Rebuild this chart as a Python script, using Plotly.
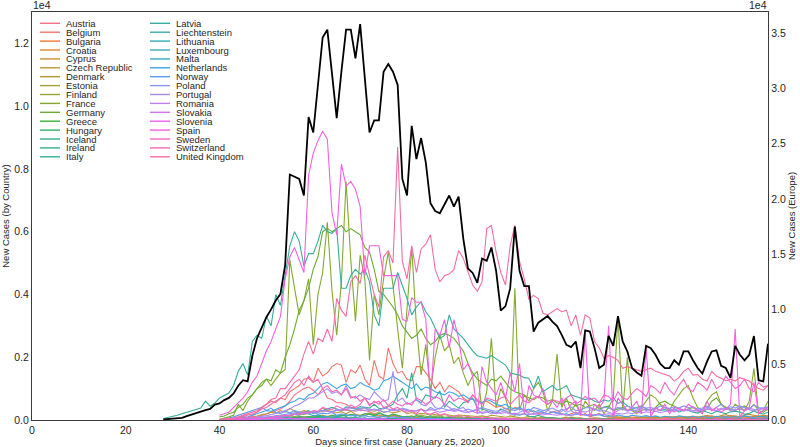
import math
import plotly.graph_objects as go

# ---------------------------------------------------------------- data
countries = [
    "Austria", "Belgium", "Bulgaria", "Croatia", "Cyprus", "Czech Republic",
    "Denmark", "Estonia", "Finland", "France", "Germany", "Greece", "Hungary",
    "Iceland", "Ireland", "Italy", "Latvia", "Liechtenstein", "Lithuania",
    "Luxembourg", "Malta", "Netherlands", "Norway", "Poland", "Portugal",
    "Romania", "Slovakia", "Slovenia", "Spain", "Sweden", "Switzerland",
    "United Kingdom",
]

early_start = 28   # first day of the Europe / Italy lists
late_start = 40    # first day of the other country lists

europe = [
    50, 80,
    120, 150, 200, 350, 500, 650, 800, 900, 1000, 1400,
    1500, 1800, 2000, 2400, 3100, 3600, 3500, 5800, 7400, 8400,
    9300, 10000, 10800, 11400, 14000, 22200, 22000, 21800, 20300, 27400,
    26000, 30500, 34600, 35300, 31000, 27300, 31500, 35300, 35300, 32700,
    35800, 31000, 26000, 27100, 27100, 31500, 32200, 31500, 30300, 21800,
    20300, 26600, 23600, 25500, 23300, 19600, 18900, 18700, 19500, 20300,
    19300, 20200, 16400, 13700, 13300, 12400, 14600, 14400, 15600, 13500,
    9900, 10300, 11900, 17500, 13500, 12100, 12100, 8000, 8800, 9100,
    9400, 8900, 8500, 7700, 6800, 6600, 7100, 4700, 8100, 8000,
    6500, 4700, 5000, 7600, 6700, 9400, 7100, 6200, 4700, 4300,
    4000, 6700, 6500, 5900, 5100, 4700, 4700, 5400, 5000, 6200,
    6200, 5400, 4700, 4200, 5300, 6200, 6300, 4900, 4700, 3800,
    6700, 5900, 5400, 5900, 7600, 3600, 3500, 6900,
]

italy = [
    50, 80,
    130, 150, 200, 250, 280, 330, 380, 600, 440, 540,
    700, 780, 860, 1100, 1550, 1800, 1430, 2500, 2700, 2600,
    3300, 3000, 4000, 3650, 4600, 5550, 6000, 5700, 4900, 5300,
    5300, 5700, 6200, 6000, 5950, 6100, 4200, 4200, 4600, 4800,
    4650, 4800, 4400, 3350, 3000, 4200, 4200, 4200, 4700, 4300,
    3870, 3350, 3600, 3770, 3450, 3250, 2900, 2600, 2700, 3350,
    2900, 2750, 2600, 2400, 2200, 2050, 2000, 1970, 2050, 1950,
    1870, 1750, 1500, 1470, 1430, 1350, 1330, 1000, 1400, 900,
    1000, 1100, 950, 1000, 1100, 800, 750, 700, 650, 700,
    600, 550, 640, 600, 700, 530, 580, 450, 380, 400,
    450, 350, 320, 380, 300, 330, 280, 360, 250, 320,
    300, 250, 220, 300, 240, 200, 280, 230, 200, 260,
    280, 250, 180, 210, 290, 220, 190, 250,
]

austria = [
    5, 10, 15, 20, 30, 40, 60, 100, 110, 140,
    200, 250, 310, 350, 450, 600, 800, 900, 1000, 1050,
    950, 800, 1000, 700, 650, 550, 550, 500, 400, 400,
    300, 310, 250, 200, 150, 100, 120, 130, 100, 80,
    90, 80, 70, 60, 50, 60, 70, 50, 40, 60,
    50, 40, 30, 40, 50, 40, 30, 50, 40, 30,
    30, 40, 30, 20, 30, 40, 20, 30, 40, 20,
    30, 20, 40, 30, 20, 30, 20, 40, 30, 20,
    30, 40, 20, 30, 50, 30, 20, 30, 40, 50,
    30, 40, 50, 30, 40, 60, 50, 40, 30, 40,
    50, 30, 40, 60, 40, 30, 50, 40, 30, 60,
    40, 50, 30, 40, 60, 50, 40, 30,
]

belgium = [
    10, 20, 30, 50, 80, 150, 200, 150, 250, 400,
    500, 600, 550, 700, 650, 900, 1000, 1100, 1300, 1330,
    1200, 1650, 1400, 1500, 1700, 1800, 1750, 1200, 1600, 1500,
    1750, 1300, 1100, 1900, 1400, 1300, 2300, 1800, 1500, 1550,
    1300, 1250, 1700, 1700, 1500, 1300, 1000, 1200, 900, 1100,
    1000, 900, 700, 600, 800, 650, 550, 600, 500, 400,
    450, 350, 300, 400, 350, 300, 250, 300, 200, 250,
    200, 250, 300, 200, 150, 200, 250, 150, 200, 100,
    150, 200, 120, 100, 150, 80, 100, 120, 90, 100,
    80, 100, 60, 90, 70, 80, 100, 60, 80, 90,
    70, 90, 60, 80, 100, 70, 90, 60, 80, 100,
    70, 90, 110, 80, 100, 90, 70, 80,
]

bulgaria = [
    0, 0, 2, 5, 7, 10, 15, 20, 25, 30,
    20, 35, 40, 25, 30, 45, 50, 30, 40, 35,
    50, 40, 30, 60, 45, 40, 55, 35, 50, 60,
    40, 30, 45, 50, 70, 35, 40, 30, 45, 40,
    55, 35, 40, 30, 20, 45, 30, 25, 40, 35,
    30, 20, 35, 40, 25, 30, 45, 35, 40, 20,
    30, 25, 40, 35, 20, 15, 30, 25, 20, 35,
    30, 20, 15, 25, 30, 20, 40, 35, 25, 30,
    50, 40, 60, 45, 30, 55, 40, 70, 50, 60,
    80, 60, 75, 90, 70, 85, 100, 80, 95, 110,
    90, 120, 100, 85, 110, 130, 95, 120, 105, 140,
    110, 100, 125, 90, 115, 135, 100, 120,
]

croatia = [
    0, 1, 2, 5, 10, 15, 20, 30, 40, 50,
    60, 70, 40, 80, 90, 60, 70, 95, 100, 80,
    70, 90, 60, 80, 100, 65, 50, 70, 60, 50,
    40, 55, 30, 45, 35, 50, 25, 40, 30, 20,
    30, 25, 15, 20, 35, 20, 10, 15, 20, 25,
    10, 15, 20, 8, 12, 10, 5, 8, 10, 6,
    5, 8, 4, 6, 3, 5, 2, 4, 6, 3,
    2, 3, 1, 2, 0, 1, 2, 0, 1, 3,
    2, 1, 0, 1, 2, 0, 1, 3, 2, 1,
    0, 2, 3, 5, 4, 8, 10, 6, 12, 15,
    20, 25, 30, 35, 40, 30, 45, 50, 60, 45,
    55, 70, 65, 80, 60, 75, 90, 70,
]

cyprus = [
    0, 0, 2, 4, 3, 6, 10, 8, 12, 15,
    20, 18, 25, 30, 20, 35, 25, 40, 30, 45,
    30, 25, 40, 35, 20, 30, 15, 25, 30, 20,
    15, 20, 10, 25, 12, 18, 8, 15, 10, 12,
    8, 10, 5, 7, 9, 4, 6, 3, 5, 8,
    4, 2, 5, 3, 6, 2, 4, 1, 3, 5,
    2, 3, 1, 4, 2, 0, 3, 1, 2, 0,
    1, 2, 0, 3, 1, 2, 0, 1, 2, 0,
    1, 3, 0, 2, 1, 4, 2, 0, 1, 3,
    2, 1, 0, 3, 2, 1, 4, 2, 0, 1,
    3, 2, 1, 0, 2, 4, 1, 3, 2, 0,
    1, 2, 3, 1, 0, 2, 4, 1,
]

czech_republic = [
    5, 10, 15, 20, 30, 50, 80, 100, 130, 170,
    190, 250, 220, 300, 250, 370, 280, 240, 300, 260,
    250, 270, 380, 300, 240, 230, 260, 200, 280, 180,
    150, 200, 220, 170, 120, 140, 100, 150, 130, 90,
    110, 80, 60, 100, 70, 55, 90, 60, 40, 70,
    50, 80, 35, 40, 60, 30, 50, 45, 30, 40,
    25, 50, 35, 60, 30, 45, 70, 40, 30, 55,
    80, 60, 45, 35, 50, 90, 70, 60, 40, 55,
    70, 50, 40, 60, 80, 100, 75, 90, 60, 70,
    80, 95, 60, 100, 70, 55, 90, 110, 80, 65,
    100, 120, 90, 130, 150, 110, 95, 140, 170, 120,
    130, 100, 160, 180, 140, 120, 150, 130,
]

denmark = [
    10, 25, 40, 60, 90, 120, 70, 50, 40, 60,
    80, 90, 100, 130, 160, 150, 170, 200, 180, 220,
    240, 250, 280, 300, 270, 310, 290, 330, 280, 320,
    350, 390, 300, 280, 320, 250, 270, 230, 260, 300,
    200, 240, 180, 210, 190, 160, 170, 140, 180, 150,
    130, 160, 150, 140, 120, 110, 130, 100, 150, 120,
    110, 90, 130, 100, 70, 80, 120, 90, 60, 100,
    70, 80, 50, 60, 90, 40, 55, 70, 35, 50,
    45, 60, 30, 55, 40, 35, 50, 25, 45, 30,
    40, 25, 35, 45, 30, 20, 40, 35, 25, 30,
    45, 35, 20, 40, 30, 50, 25, 35, 45, 20,
    30, 40, 25, 35, 20, 45, 30, 25,
]

estonia = [
    0, 2, 5, 10, 20, 40, 60, 30, 20, 40,
    80, 50, 40, 30, 60, 40, 50, 90, 35, 30,
    40, 80, 30, 50, 40, 70, 45, 35, 60, 50,
    30, 40, 25, 50, 30, 20, 45, 35, 25, 30,
    20, 15, 25, 10, 20, 15, 8, 12, 18, 10,
    6, 9, 5, 12, 7, 4, 8, 3, 6, 5,
    4, 2, 5, 3, 6, 1, 3, 2, 4, 1,
    2, 0, 3, 1, 2, 0, 1, 3, 0, 2,
    1, 0, 2, 1, 3, 0, 1, 2, 0, 1,
    2, 1, 0, 3, 1, 0, 2, 1, 0, 1,
    3, 0, 1, 2, 0, 1, 3, 0, 1, 2,
    0, 1, 2, 0, 3, 1, 0, 2,
]

finland = [
    2, 5, 10, 20, 30, 40, 50, 60, 40, 70,
    80, 60, 90, 100, 70, 90, 120, 130, 90, 110,
    100, 140, 150, 110, 160, 130, 170, 120, 180, 150,
    130, 140, 200, 170, 260, 150, 120, 180, 140, 110,
    100, 130, 90, 160, 120, 80, 110, 140, 90, 100,
    80, 110, 60, 90, 70, 100, 60, 50, 80, 40,
    70, 50, 60, 40, 30, 50, 45, 35, 25, 40,
    30, 45, 20, 35, 25, 30, 15, 20, 35, 10,
    25, 20, 15, 30, 10, 20, 15, 25, 10, 20,
    15, 10, 20, 12, 8, 15, 10, 18, 5, 12,
    10, 15, 8, 12, 5, 10, 15, 6, 12, 8,
    10, 5, 12, 8, 15, 6, 10, 8,
]

france = [
    20, 50, 100, 150, 500, 300, 600, 800, 1000, 1200,
    1300, 1100, 1300, 1500, 1600, 5100, 4200, 3350, 3800, 4500,
    2400, 4000, 4700, 6300, 4100, 2700, 4400, 7600, 5100, 3150,
    5250, 4500, 1900, 4000, 3350, 4500, 5350, 4300, 2900, 1650,
    3550, 5500, 3000, 1430, 2400, 920, 2000, 2700, 2200, 2400,
    1800, 2000, 1500, 1100, 1400, 1550, 300, 900, 2600, 400,
    1000, 700, 200, 4200, 300, 800, 600, 1000, 1200, 900,
    300, 600, 2100, 400, 700, 300, 500, 200, 600, 400,
    300, 500, 200, 400, 700, 3300, 300, 2000, 300, 200,
    400, 600, 800, 700, 500, 400, 300, 600, 800, 1000,
    1100, 700, 400, 300, 600, 800, 900, 500, 400, 300,
    500, 400, 300, 600, 1650, 200, 300, 600,
]

germany = [
    100, 130, 200, 250, 400, 500, 700, 800, 1000, 1100,
    1300, 1250, 1600, 1500, 2000, 2400, 2900, 3500, 3800, 4200,
    4800, 5200, 6000, 6100, 6000, 6100, 6200, 6000, 6100, 6000,
    5900, 5500, 5350, 4800, 4100, 4000, 3800, 3600, 3350, 3000,
    2800, 2600, 2700, 2900, 2600, 2400, 2500, 2700, 2750, 2700,
    2600, 2400, 2200, 1800, 1500, 1300, 1200, 1100, 1300, 1250,
    1400, 1200, 1000, 900, 850, 800, 700, 650, 750, 700,
    600, 650, 550, 500, 600, 550, 450, 500, 400, 450,
    500, 350, 400, 450, 300, 350, 400, 300, 350, 250,
    300, 350, 300, 400, 550, 600, 500, 450, 350, 300,
    350, 400, 300, 250, 350, 600, 700, 500, 400, 350,
    300, 400, 450, 350, 500, 300, 250, 350,
]

greece = [
    0, 2, 5, 10, 20, 30, 25, 40, 35, 50,
    45, 30, 60, 40, 70, 50, 80, 40, 60, 90,
    70, 50, 100, 60, 40, 80, 60, 90, 50, 70,
    40, 60, 30, 50, 70, 40, 20, 50, 30, 60,
    40, 20, 30, 50, 20, 60, 30, 15, 40, 20,
    10, 25, 15, 20, 8, 30, 12, 18, 10, 15,
    20, 10, 15, 5, 12, 18, 8, 10, 20, 6,
    12, 8, 15, 10, 5, 18, 10, 6, 12, 8,
    10, 15, 5, 12, 8, 20, 10, 6, 15, 9,
    12, 8, 20, 10, 15, 6, 18, 12, 10, 22,
    15, 10, 25, 12, 20, 8, 15, 18, 30, 12,
    20, 15, 10, 25, 18, 12, 30, 20,
]

hungary = [
    0, 1, 2, 5, 8, 10, 15, 20, 25, 30,
    40, 35, 50, 60, 40, 70, 80, 60, 90, 100,
    80, 120, 110, 90, 140, 100, 150, 130, 170, 160,
    120, 200, 180, 140, 210, 160, 130, 190, 150, 100,
    120, 90, 140, 110, 80, 130, 70, 100, 60, 90,
    80, 50, 70, 60, 40, 55, 35, 50, 30, 45,
    40, 25, 35, 20, 30, 15, 25, 35, 20, 30,
    15, 20, 10, 25, 15, 8, 20, 12, 18, 10,
    15, 8, 12, 20, 10, 6, 15, 10, 5, 12,
    8, 10, 5, 12, 6, 10, 4, 8, 12, 6,
    10, 5, 8, 12, 6, 10, 4, 9, 14, 7,
    10, 6, 12, 8, 15, 9, 11, 7,
]

iceland = [
    2, 10, 15, 20, 30, 40, 25, 50, 60, 45,
    70, 40, 60, 80, 100, 90, 50, 110, 80, 60,
    90, 70, 100, 50, 60, 80, 40, 60, 30, 50,
    40, 25, 30, 20, 35, 15, 25, 10, 20, 15,
    10, 15, 8, 5, 10, 4, 6, 3, 8, 2,
    3, 1, 4, 2, 0, 3, 1, 0, 2, 1,
    0, 1, 0, 2, 0, 1, 0, 0, 1, 0,
    0, 1, 0, 0, 1, 0, 2, 0, 1, 0,
    0, 1, 0, 2, 0, 1, 0, 0, 1, 0,
    2, 0, 1, 0, 0, 3, 1, 0, 2, 1,
    0, 1, 3, 0, 2, 1, 0, 2, 1, 0,
    1, 0, 2, 1, 0, 3, 1, 0,
]

ireland = [
    0, 1, 2, 5, 10, 20, 30, 40, 60, 70,
    90, 100, 120, 130, 100, 150, 200, 230, 250, 300,
    200, 270, 300, 350, 400, 350, 300, 420, 390, 350,
    430, 400, 380, 500, 370, 350, 420, 500, 800, 1000,
    700, 1500, 650, 550, 800, 750, 700, 930, 400, 600,
    500, 380, 550, 600, 700, 400, 350, 300, 250, 200,
    350, 280, 220, 180, 150, 200, 120, 100, 150, 90,
    80, 60, 70, 50, 40, 60, 30, 50, 35, 40,
    25, 30, 45, 20, 35, 15, 25, 10, 20, 15,
    10, 20, 8, 15, 12, 5, 10, 20, 8, 12,
    10, 6, 15, 8, 12, 10, 5, 9, 14, 7,
    10, 12, 8, 6, 15, 9, 11, 7,
]

latvia = [
    0, 0, 1, 3, 5, 8, 10, 15, 20, 25,
    30, 20, 40, 25, 35, 20, 45, 30, 25, 40,
    20, 30, 15, 25, 35, 20, 15, 25, 10, 20,
    15, 25, 10, 20, 15, 8, 12, 20, 10, 15,
    8, 12, 5, 10, 6, 15, 8, 4, 10, 6,
    5, 8, 3, 6, 2, 5, 4, 1, 3, 5,
    2, 4, 1, 3, 5, 2, 0, 3, 1, 2,
    0, 2, 1, 3, 0, 2, 1, 0, 2, 1,
    1, 0, 2, 1, 3, 0, 1, 2, 0, 1,
    2, 0, 1, 0, 2, 1, 0, 1, 3, 0,
    1, 2, 0, 1, 0, 2, 1, 0, 3, 1,
    0, 2, 1, 0, 1, 3, 0, 1,
]

liechtenstein = [
    0, 0, 0, 1, 0, 2, 3, 1, 4, 2,
    5, 3, 6, 2, 4, 7, 3, 5, 2, 4,
    3, 1, 2, 4, 1, 0, 2, 1, 3, 0,
    1, 0, 2, 0, 1, 0, 0, 1, 0, 0,
    0, 1, 0, 0, 0, 1, 0, 0, 0, 0,
    1, 0, 0, 0, 0, 0, 1, 0, 0, 0,
    0, 0, 0, 1, 0, 0, 0, 0, 0, 0,
    0, 0, 1, 0, 0, 0, 0, 0, 0, 0,
    0, 0, 0, 0, 1, 0, 0, 0, 0, 0,
    0, 0, 0, 0, 0, 0, 1, 0, 0, 0,
    0, 0, 0, 0, 0, 0, 0, 1, 0, 0,
    0, 0, 0, 0, 0, 0, 0, 0,
]

lithuania = [
    0, 0, 1, 2, 5, 8, 10, 15, 20, 30,
    25, 40, 30, 50, 35, 60, 45, 30, 70, 40,
    55, 30, 80, 45, 35, 60, 40, 25, 50, 30,
    70, 35, 20, 40, 25, 55, 30, 15, 25, 20,
    35, 15, 10, 20, 30, 12, 8, 15, 10, 20,
    8, 12, 5, 10, 15, 6, 9, 4, 12, 7,
    10, 5, 8, 12, 6, 9, 15, 7, 5, 10,
    8, 4, 12, 6, 10, 5, 8, 3, 11, 6,
    9, 5, 7, 12, 4, 8, 6, 10, 3, 7,
    5, 9, 4, 6, 10, 3, 7, 5, 8, 4,
    6, 10, 3, 7, 5, 12, 4, 8, 6, 15,
    7, 10, 5, 20, 8, 12, 6, 9,
]

luxembourg = [
    0, 1, 2, 3, 5, 10, 20, 30, 40, 60,
    80, 70, 130, 100, 150, 120, 180, 160, 230, 190,
    140, 150, 100, 120, 80, 130, 90, 70, 60, 110,
    40, 60, 30, 50, 70, 20, 35, 25, 40, 15,
    20, 10, 25, 15, 8, 12, 20, 5, 10, 15,
    8, 12, 5, 10, 6, 15, 4, 9, 7, 12,
    5, 8, 3, 10, 6, 4, 9, 2, 7, 5,
    3, 6, 2, 8, 4, 5, 1, 7, 3, 5,
    2, 4, 6, 3, 1, 5, 8, 4, 2, 6,
    3, 7, 5, 10, 6, 12, 8, 15, 10, 18,
    12, 20, 15, 25, 18, 30, 22, 35, 25, 40,
    30, 45, 35, 50, 40, 55, 45, 60,
]

malta = [
    0, 0, 1, 2, 3, 5, 8, 4, 10, 6,
    12, 8, 15, 10, 5, 20, 12, 8, 15, 10,
    6, 12, 8, 15, 5, 20, 10, 4, 12, 6,
    8, 15, 5, 10, 3, 12, 6, 20, 8, 4,
    10, 5, 15, 3, 8, 12, 6, 2, 9, 5,
    4, 8, 2, 6, 10, 3, 5, 1, 7, 4,
    3, 6, 1, 5, 2, 8, 4, 1, 6, 3,
    2, 5, 1, 4, 3, 6, 0, 2, 5, 1,
    4, 2, 6, 1, 3, 0, 5, 2, 1, 4,
    2, 0, 3, 1, 4, 2, 0, 5, 1, 3,
    0, 2, 4, 1, 3, 0, 6, 2, 1, 3,
    0, 4, 2, 1, 5, 0, 3, 2,
]

netherlands = [
    5, 10, 20, 40, 60, 80, 100, 150, 200, 250,
    300, 280, 350, 400, 450, 550, 600, 700, 650, 800,
    850, 1000, 1150, 1200, 1100, 1000, 1100, 1150, 1000, 1050,
    1200, 1100, 1050, 950, 1000, 1250, 1300, 1400, 1300, 1200,
    1100, 1000, 1150, 950, 1050, 1000, 900, 850, 800, 900,
    850, 750, 800, 700, 650, 600, 550, 650, 600, 500,
    450, 500, 400, 350, 400, 300, 350, 250, 300, 250,
    200, 250, 230, 180, 200, 150, 170, 200, 160, 130,
    150, 170, 120, 140, 110, 160, 130, 100, 150, 120,
    110, 140, 100, 130, 90, 120, 110, 80, 130, 100,
    90, 120, 80, 110, 100, 70, 120, 90, 100, 80,
    110, 90, 130, 100, 80, 120, 100, 90,
]

norway = [
    10, 30, 60, 100, 150, 200, 250, 300, 350, 400,
    300, 380, 250, 200, 280, 220, 300, 250, 200, 230,
    260, 180, 220, 200, 240, 150, 190, 170, 130, 160,
    120, 140, 100, 110, 90, 120, 80, 100, 70, 90,
    60, 80, 50, 70, 40, 60, 30, 50, 45, 35,
    40, 30, 25, 35, 20, 30, 15, 25, 20, 12,
    15, 20, 10, 18, 12, 8, 15, 10, 6, 12,
    8, 10, 5, 12, 6, 9, 4, 10, 7, 5,
    8, 4, 10, 6, 3, 9, 5, 7, 2, 6,
    5, 8, 3, 6, 10, 4, 7, 2, 5, 8,
    4, 6, 9, 3, 7, 5, 2, 8, 4, 6,
    3, 7, 5, 2, 6, 4, 8, 3,
]

poland = [
    0, 2, 5, 10, 15, 20, 30, 50, 60, 80,
    100, 110, 130, 150, 170, 190, 220, 250, 240, 200,
    260, 250, 300, 280, 240, 350, 300, 400, 380, 350,
    370, 400, 300, 350, 320, 250, 280, 350, 300, 380,
    330, 270, 300, 350, 280, 400, 320, 380, 350, 300,
    360, 310, 280, 350, 300, 320, 400, 350, 300, 280,
    310, 380, 330, 300, 360, 320, 280, 400, 350, 300,
    330, 380, 300, 280, 350, 420, 300, 320, 380, 400,
    350, 300, 420, 380, 330, 400, 360, 450, 380, 350,
    420, 380, 400, 350, 450, 400, 370, 420, 380, 450,
    400, 420, 350, 380, 450, 300, 400, 500, 350, 420,
    380, 450, 400, 350, 480, 400, 380, 420,
]

portugal = [
    0, 2, 5, 10, 20, 30, 40, 60, 80, 110,
    140, 170, 200, 250, 300, 350, 450, 500, 600, 700,
    700, 800, 900, 1000, 850, 900, 800, 1100, 750, 700,
    800, 700, 650, 900, 750, 600, 650, 1550, 600, 700,
    500, 550, 650, 500, 450, 600, 400, 350, 500, 400,
    300, 350, 400, 250, 300, 350, 200, 250, 300, 200,
    250, 300, 200, 150, 250, 300, 200, 180, 250, 200,
    300, 250, 200, 350, 250, 300, 200, 280, 250, 300,
    350, 280, 300, 250, 200, 300, 350, 280, 320, 300,
    380, 300, 350, 280, 300, 400, 350, 300, 380, 320,
    350, 300, 280, 330, 400, 350, 300, 380, 330, 350,
    300, 380, 400, 330, 300, 350, 380, 320,
]

romania = [
    0, 1, 2, 5, 10, 15, 20, 30, 40, 50,
    60, 70, 80, 100, 110, 150, 180, 200, 210, 250,
    230, 260, 300, 280, 250, 300, 320, 350, 300, 280,
    330, 300, 350, 330, 290, 400, 340, 300, 320, 350,
    300, 310, 280, 350, 290, 330, 300, 250, 280, 320,
    270, 300, 260, 240, 280, 220, 250, 260, 200, 230,
    210, 240, 190, 220, 180, 200, 170, 210, 180, 160,
    190, 170, 150, 180, 160, 140, 200, 170, 150, 180,
    160, 190, 170, 200, 180, 210, 190, 230, 200, 250,
    220, 260, 240, 280, 230, 270, 300, 260, 320, 290,
    310, 280, 330, 300, 350, 320, 290, 340, 360, 310,
    330, 350, 300, 370, 340, 320, 360, 350,
]

slovakia = [
    0, 0, 1, 2, 5, 8, 10, 15, 20, 25,
    30, 40, 20, 50, 35, 60, 25, 40, 30, 50,
    20, 45, 30, 60, 25, 40, 20, 35, 15, 30,
    25, 40, 20, 30, 15, 35, 10, 25, 20, 30,
    15, 20, 10, 25, 8, 15, 12, 20, 5, 10,
    8, 5, 12, 6, 3, 10, 5, 2, 8, 4,
    3, 6, 1, 5, 2, 4, 0, 3, 1, 5,
    2, 0, 4, 1, 3, 0, 2, 1, 3, 0,
    2, 1, 0, 3, 1, 2, 0, 4, 1, 2,
    0, 3, 1, 2, 0, 5, 1, 3, 2, 0,
    4, 1, 3, 0, 2, 6, 1, 3, 0, 2,
    5, 1, 3, 2, 0, 4, 2, 1,
]

slovenia = [
    0, 1, 3, 5, 10, 15, 25, 30, 40, 50,
    45, 60, 35, 70, 40, 55, 30, 50, 65, 40,
    35, 55, 30, 45, 25, 40, 50, 30, 20, 35,
    25, 30, 15, 20, 35, 12, 25, 18, 10, 20,
    12, 15, 8, 10, 5, 12, 6, 8, 4, 10,
    5, 3, 6, 2, 8, 1, 4, 3, 2, 5,
    1, 3, 0, 2, 1, 4, 0, 2, 1, 3,
    0, 1, 2, 0, 3, 1, 0, 2, 1, 0,
    1, 2, 0, 1, 3, 0, 2, 1, 0, 1,
    2, 0, 1, 0, 2, 1, 0, 3, 1, 0,
    2, 1, 0, 2, 1, 0, 3, 1, 0, 2,
    1, 0, 2, 1, 0, 3, 1, 2,
]

spain = [
    150, 200, 250, 400, 550, 700, 900, 1200, 1400, 1800,
    2200, 2500, 2900, 3300, 4500, 5200, 5500, 5100, 4700, 7800,
    8500, 8900, 9200, 8950, 6600, 5900, 8150, 7450, 7600, 7350,
    6800, 4600, 5550, 5550, 5550, 4600, 4600, 4600, 4600, 3200,
    3150, 3900, 3750, 3750, 3200, 600, 2900, 2700, 3200, 2300,
    3200, 2600, 1600, 1800, 1400, 200, 1700, 1200, 1000, 800,
    1200, 700, 1500, 900, 1800, 200, 1100, 800, 700, 1000,
    500, 600, 400, 700, 300, 500, 600, 200, 2800, 100,
    500, 400, 600, 3000, 100, 700, 500, 300, 400, 600,
    200, 2300, 100, 400, 300, 500, 200, 400, 350, 300,
    500, 400, 300, 200, 600, 300, 400, 250, 350, 500,
    2900, 100, 300, 400, 1200, 200, 300, 400,
]

sweden = [
    0, 5, 10, 20, 40, 60, 80, 100, 70, 50,
    60, 80, 100, 120, 150, 130, 200, 180, 250, 230,
    300, 280, 400, 350, 330, 450, 380, 300, 480, 400,
    500, 700, 450, 600, 500, 650, 460, 600, 500, 450,
    550, 480, 700, 620, 500, 600, 750, 680, 500, 800,
    600, 700, 650, 550, 800, 600, 500, 700, 650, 600,
    700, 750, 500, 650, 800, 600, 550, 700, 750, 600,
    500, 650, 600, 550, 700, 800, 500, 600, 750, 650,
    700, 550, 800, 750, 600, 900, 700, 650, 850, 1000,
    900, 750, 1100, 1000, 850, 1200, 950, 800, 1100, 1300,
    1000, 900, 1200, 1100, 950, 1300, 1000, 1100, 1400, 1200,
    1000, 1100, 1300, 1000, 900, 1200, 1050, 1100,
]

switzerland = [
    5, 10, 20, 40, 70, 100, 150, 200, 250, 350,
    400, 500, 600, 700, 800, 1000, 1200, 1300, 1100, 1400,
    1200, 1300, 1000, 1100, 900, 950, 800, 1000, 700, 750,
    600, 700, 500, 550, 600, 400, 450, 350, 400, 300,
    250, 300, 200, 350, 220, 180, 250, 150, 200, 120,
    100, 150, 90, 120, 80, 100, 60, 90, 50, 70,
    40, 60, 35, 50, 30, 45, 20, 40, 25, 35,
    20, 30, 15, 25, 35, 20, 10, 25, 15, 30,
    20, 15, 25, 10, 30, 20, 15, 25, 35, 20,
    15, 25, 30, 20, 10, 35, 25, 20, 30, 15,
    25, 20, 35, 30, 15, 25, 40, 20, 30, 35,
    20, 30, 25, 40, 15, 35, 25, 30,
]

united_kingdom = [
    20, 30, 50, 60, 100, 150, 200, 250, 300, 400,
    500, 650, 700, 1000, 1000, 1200, 1400, 1600, 2100, 2500,
    2100, 2600, 2500, 2900, 2500, 3870, 3500, 3300, 4400, 4600,
    4350, 5250, 4600, 4000, 3600, 5200, 5400, 5000, 8700, 5050,
    4500, 5550, 4700, 5450, 5600, 5900, 4800, 4400, 4600, 4650,
    4800, 5400, 5150, 4700, 4300, 4100, 4400, 6100, 6200, 5350,
    4700, 4300, 5550, 6200, 5050, 4500, 3850, 3970, 3870, 3400,
    3350, 3450, 3550, 3450, 3500, 3000, 3350, 2700, 3350, 3250,
    2500, 2300, 1970, 2050, 2000, 1900, 1650, 1700, 1650, 1600,
    1550, 1600, 1650, 1550, 1500, 1450, 1400, 1240, 1350, 1550,
    1650, 1430, 1450, 1300, 1240, 1550, 1400, 1330, 1250, 1300,
    1240, 1350, 1300, 1240, 1100, 1000, 950, 1100,
]

country_values = [
    austria, belgium, bulgaria, croatia, cyprus, czech_republic, denmark,
    estonia, finland, france, germany, greece, hungary, iceland, ireland,
    italy, latvia, liechtenstein, lithuania, luxembourg, malta, netherlands,
    norway, poland, portugal, romania, slovakia, slovenia, spain, sweden,
    switzerland, united_kingdom,
]

x_ticks = [0, 20, 40, 60, 80, 100, 120, 140]
left_ticks = [0, 2000, 4000, 6000, 8000, 10000, 12000]
left_labels = ["0.0", "0.2", "0.4", "0.6", "0.8", "1.0", "1.2"]
right_ticks = [0, 5000, 10000, 15000, 20000, 25000, 30000, 35000]
right_labels = ["0.0", "0.5", "1.0", "1.5", "2.0", "2.5", "3.0", "3.5"]


# ---------------------------------------------------------------- husl palette
M = [[3.2406, -1.5372, -0.4986],
     [-0.9689, 1.8758, 0.0415],
     [0.0557, -0.2040, 1.0570]]


def husl_hex(h, s, l):
    hrad = math.radians(h)
    sin_h, cos_h = math.sin(hrad), math.cos(hrad)
    sub1 = (l + 16) ** 3 / 1560896.0
    sub2 = sub1 if sub1 > 0.008856 else l / 903.3
    max_c = float("inf")
    for m1, m2, m3 in M:
        top = (0.99915 * m1 + 1.05122 * m2 + 1.14460 * m3) * sub2
        rb = 0.86330 * m3 - 0.17266 * m2
        lb = 0.12949 * m3 - 0.38848 * m1
        bottom = (rb * sin_h + lb * cos_h) * sub2
        for t in (0.0, 1.0):
            c = l * (top - 1.05122 * t) / (bottom + 0.17266 * sin_h * t)
            if 0 < c < max_c:
                max_c = c
    chroma = max_c / 100.0 * s
    u, v = math.cos(hrad) * chroma, math.sin(hrad) * chroma
    t = (l + 16.0) / 116.0
    yy = t ** 3 if t ** 3 > 0.008856 else (116.0 * t - 16.0) / 903.3
    vu = u / (13.0 * l) + 0.19784
    vv = v / (13.0 * l) + 0.46834
    xx = -(9.0 * yy * vu) / ((vu - 4.0) * vv - vu * vv)
    zz = (9.0 * yy - 15.0 * vv * yy - vv * xx) / (3.0 * vv)
    out = []
    for row in M:
        lin = row[0] * xx + row[1] * yy + row[2] * zz
        val = 12.92 * lin if lin <= 0.0031308 else 1.055 * lin ** (1 / 2.4) - 0.055
        out.append(int(round(min(max(val, 0.0), 1.0) * 255)))
    return "#%02x%02x%02x" % tuple(out)


n = len(countries)
colors = [husl_hex(((i / n) + 0.01) % 1 * 359, 89.1, 64.35) for i in range(n)]

# ---------------------------------------------------------------- figure
FONT = "Liberation Sans, Arial, sans-serif"
TXT = "#262626"

fig = go.Figure()
for name, vals, col in zip(countries, country_values, colors):
    start = early_start if name == "Italy" else late_start
    fig.add_trace(go.Scatter(
        x=list(range(start, start + len(vals))), y=vals, mode="lines",
        name=name, line=dict(color=col, width=1.1), showlegend=False,
    ))

fig.add_trace(go.Scatter(
    x=list(range(early_start, early_start + len(europe))), y=europe,
    mode="lines", name="Europe", yaxis="y2",
    line=dict(color="black", width=1.8), showlegend=False,
))

# plot area in pixels: x 32..768, y 12..420
L, R, T, B = 32, 768, 12, 420


def px(x):
    return (x - L) / (R - L)


def py(y):
    return (B - y) / (B - T)


shapes, annotations = [], []
for i, (name, col) in enumerate(zip(countries, colors)):
    c, r = divmod(i, 16)
    y = 23.3 + r * 8.9
    x0 = 40 + c * 110
    shapes.append(dict(type="line", xref="paper", yref="paper",
                       x0=px(x0), x1=px(x0 + 20), y0=py(y), y1=py(y),
                       line=dict(color=col, width=1.4)))
    annotations.append(dict(text=name, xref="paper", yref="paper",
                            x=px(x0 + 25), y=py(y), xanchor="left",
                            yanchor="middle", showarrow=False, borderpad=0,
                            font=dict(size=9.5, color=TXT, family=FONT)))

annotations.append(dict(text="1e4", xref="paper", yref="paper", x=0, y=1,
                        xanchor="left", yanchor="bottom", showarrow=False,
                        borderpad=0,
                        font=dict(size=10.5, color=TXT, family=FONT)))
annotations.append(dict(text="1e4", xref="paper", yref="paper", x=1, y=1,
                        xanchor="right", yanchor="bottom", showarrow=False,
                        borderpad=0,
                        font=dict(size=10.5, color=TXT, family=FONT)))

axis_common = dict(showgrid=False, zeroline=False, showline=True,
                   linecolor="#3a3a3a", linewidth=1.2, ticks="",
                   tickfont=dict(size=10.5, color=TXT, family=FONT))

fig.update_layout(
    width=800, height=447, autosize=False,
    margin=dict(l=L, r=800 - R, t=T, b=447 - B),
    paper_bgcolor="white", plot_bgcolor="white",
    font=dict(family=FONT, color=TXT),
    shapes=shapes, annotations=annotations,
    xaxis=dict(range=[0, 157], tickvals=x_ticks, mirror=True,
               title=dict(text="Days since first case (January 25, 2020)",
                          font=dict(size=9.5, color=TXT, family=FONT), standoff=2),
               automargin=False, **axis_common),
    yaxis=dict(range=[0, 13000], tickvals=left_ticks, ticktext=left_labels,
               title=dict(text="New Cases (by Country)",
                          font=dict(size=9.5, color=TXT, family=FONT), standoff=2),
               automargin=False, **axis_common),
    yaxis2=dict(range=[0, 36900], tickvals=right_ticks, ticktext=right_labels,
                overlaying="y", side="right",
                title=dict(text="New Cases (Europe)",
                           font=dict(size=9.5, color=TXT, family=FONT), standoff=2),
                automargin=False, **axis_common),
)

# the page's default body margin would shift the chart by 8px
fig.write_html("out.html", config={"displayModeBar": False},
               post_script="document.body.style.margin = '0px';")
